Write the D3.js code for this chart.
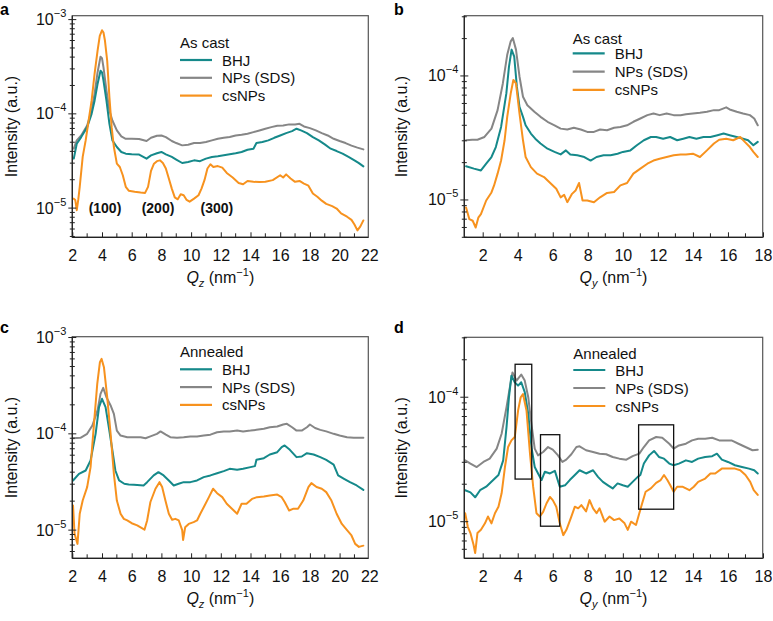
<!DOCTYPE html>
<html>
<head>
<meta charset="utf-8">
<script src="https://cdn.jsdelivr.net/npm/d3@7"></script>
<style>
  html, body { margin: 0; padding: 0; background: #fff; }
  svg { display: block; font-family: "Liberation Sans", Arial, Helvetica, sans-serif; }
</style>
</head>
<body>
<script>
// ---------------- DATA (intensity values in units of 1e-5 a.u.) ----------------
// Panel a: As cast, Qz
const aBHJ = [[2.1,3.35],[2.3,4.82],[2.6,5.67],[3.0,7.23],[3.3,10],[3.5,13.8],[3.7,20.7],[3.9,28.7],[4.0,27.5],[4.1,22.5],[4.3,13.8],[4.5,7.84],[4.7,5.23],[5.0,4.45],[5.3,3.94],[5.6,3.78],[6.0,3.72],[6.5,3.70],[7.0,3.35],[7.3,3.63],[7.7,3.82],[8.0,3.94],[8.3,3.72],[8.7,3.49],[9.0,3.27],[9.4,3.01],[9.8,3.09],[10.2,3.21],[10.6,3.15],[11.0,3.35],[11.4,3.49],[11.8,3.55],[12.2,3.63],[12.6,3.72],[13.0,3.82],[13.4,3.94],[13.8,4.16],[14.2,4.27],[14.4,4.9],[14.8,5.02],[15.2,5.23],[15.6,5.57],[16.0,5.9],[16.4,6.25],[16.8,6.55],[17.1,6.95],[17.4,6.67],[17.8,6.25],[18.2,5.67],[18.6,5.23],[19.0,4.75],[19.4,4.27],[19.8,4.03],[20.2,3.78],[20.6,3.49],[21.0,3.21],[21.3,3.0],[21.6,2.77]];
const aNPs = [[2.1,4.27],[2.3,5.23],[2.6,5.9],[3.0,7.53],[3.3,10.8],[3.5,16.3],[3.7,27.5],[3.9,40.3],[4.0,39],[4.1,31.1],[4.3,17.6],[4.5,10.8],[4.7,8.5],[5.0,6.67],[5.3,5.76],[5.6,5.44],[6.0,5.44],[6.5,5.4],[7.0,5.15],[7.3,5.57],[7.7,5.85],[8.0,5.9],[8.3,5.67],[8.7,5.15],[9.0,4.9],[9.4,4.63],[9.8,4.7],[10.2,4.9],[10.6,4.9],[11.0,5.02],[11.4,5.23],[11.8,5.44],[12.2,5.57],[12.6,5.67],[13.0,5.9],[13.4,6.0],[13.8,6.15],[14.2,6.4],[14.6,6.67],[15.0,6.95],[15.4,7.23],[15.8,7.47],[16.2,7.53],[16.6,7.73],[17.0,7.73],[17.3,7.84],[17.6,7.35],[18.0,7.06],[18.4,6.67],[18.8,6.25],[19.2,5.9],[19.6,5.44],[20.0,5.15],[20.4,4.9],[20.8,4.6],[21.2,4.38],[21.6,4.2]];
const aCs = [[2.1,1.26],[2.2,1.22],[2.3,0.95],[2.4,1.22],[2.5,1.68],[2.7,3.49],[2.9,5.23],[3.1,8.5],[3.3,13.8],[3.5,26.5],[3.7,46.7],[3.85,67.2],[4.0,77],[4.1,72.9],[4.2,59.6],[4.35,36.6],[4.5,15],[4.65,7.23],[4.8,4.45],[5.0,2.96],[5.2,2.73],[5.4,2.23],[5.6,1.68],[5.8,1.53],[6.2,1.49],[6.6,1.46],[6.9,1.45],[7.1,1.68],[7.3,2.48],[7.5,2.96],[7.7,3.15],[7.9,3.21],[8.1,3.01],[8.3,2.63],[8.5,2.06],[8.7,1.61],[8.9,1.3],[9.1,1.24],[9.3,1.4],[9.5,1.37],[9.7,1.22],[9.9,1.17],[10.2,1.26],[10.5,1.37],[10.7,1.61],[10.9,1.98],[11.1,2.63],[11.3,2.92],[11.5,2.73],[11.8,2.79],[12.1,2.69],[12.4,2.36],[12.8,2.11],[13.2,1.85],[13.5,1.79],[13.8,1.94],[14.2,1.9],[14.6,1.89],[15.0,1.9],[15.5,1.98],[16.0,2.23],[16.2,2.11],[16.4,2.28],[16.7,2.06],[17.0,1.9],[17.3,1.94],[17.6,1.82],[17.9,1.73],[18.2,1.43],[18.5,1.32],[18.8,1.2],[19.1,1.11],[19.5,1.05],[19.8,0.99],[20.1,0.88],[20.5,0.81],[20.8,0.75],[21.0,0.67],[21.2,0.58],[21.4,0.64],[21.6,0.74]];

// Panel b: As cast, Qy
const bBHJ = [[1.05,1.87],[1.5,1.79],[1.9,1.73],[2.2,1.96],[2.5,2.22],[2.75,2.67],[3.05,3.88],[3.35,7.23],[3.5,11.9],[3.65,16.3],[3.8,14.3],[3.95,8.2],[4.1,5.64],[4.3,4.68],[4.45,4.0],[4.75,3.43],[5.0,3.12],[5.3,2.85],[5.7,2.59],[6.1,2.44],[6.45,2.33],[6.75,2.51],[7.0,2.33],[7.4,2.29],[7.8,2.22],[8.16,2.08],[8.5,2.22],[8.9,2.29],[9.3,2.29],[9.7,2.36],[10.0,2.44],[10.43,2.51],[10.8,2.76],[11.2,3.03],[11.6,3.22],[11.9,3.22],[12.3,3.12],[12.7,3.22],[13.1,3.03],[13.45,3.12],[13.8,3.22],[14.2,3.12],[14.6,3.22],[15.0,3.22],[15.4,3.33],[15.75,3.43],[16.1,3.33],[16.5,3.22],[16.86,3.12],[17.15,3.03],[17.45,2.76],[17.7,2.94]];
const bNPs = [[1.05,3.03],[1.4,3.06],[1.7,3.06],[2.1,3.22],[2.5,3.76],[2.85,5.3],[3.15,8.7],[3.4,14.8],[3.6,19],[3.72,20.2],[3.9,16.3],[4.1,9.9],[4.3,6.8],[4.55,5.8],[4.95,5.14],[5.3,4.68],[5.7,4.27],[6.1,4.0],[6.45,3.76],[6.83,3.7],[7.2,3.82],[7.6,3.7],[7.97,3.54],[8.35,3.54],[8.7,3.7],[9.1,3.65],[9.5,3.82],[9.86,3.88],[10.24,4.0],[10.6,4.27],[11.0,4.54],[11.4,4.83],[11.75,4.98],[12.1,4.83],[12.5,4.98],[12.9,4.83],[13.3,4.83],[13.6,4.9],[14.0,4.98],[14.4,5.05],[14.8,5.14],[15.2,5.3],[15.5,5.3],[15.9,5.58],[16.1,5.37],[16.5,5.14],[16.86,4.98],[17.25,4.83],[17.5,4.54],[17.7,4.0]];
const bCs = [[1.05,0.87],[1.24,0.7],[1.43,0.68],[1.6,0.6],[1.75,0.72],[1.9,0.77],[2.2,0.99],[2.5,1.15],[2.65,1.31],[2.85,1.63],[3.05,2.08],[3.25,3.03],[3.4,4.68],[3.6,7.23],[3.75,9.28],[3.9,8.7],[4.1,4.98],[4.3,3.03],[4.45,2.22],[4.75,1.84],[5.1,1.63],[5.5,1.53],[5.9,1.35],[6.2,1.23],[6.45,1.05],[6.65,1.1],[6.83,0.96],[7.1,1.12],[7.3,1.19],[7.5,1.37],[7.7,0.99],[7.97,0.99],[8.35,0.96],[8.7,1.05],[9.1,1.14],[9.5,1.16],[9.86,1.31],[10.24,1.37],[10.6,1.63],[11.0,1.79],[11.4,1.96],[11.75,2.08],[12.1,2.15],[12.5,2.22],[12.9,2.29],[13.3,2.33],[13.6,2.33],[14.0,2.36],[14.4,2.22],[14.8,2.51],[15.2,2.85],[15.5,3.06],[15.9,3.12],[16.3,3.03],[16.7,3.22],[16.96,2.94],[17.25,2.67],[17.45,2.44],[17.7,2.22]];

// Panel c: Annealed, Qz
const cBHJ = [[2.05,3.28],[2.45,3.84],[2.9,4.16],[3.23,5.29],[3.57,10],[3.8,18.9],[4.0,23.1],[4.24,18.9],[4.46,11.7],[4.7,6.71],[4.9,4.16],[5.15,3.28],[5.5,3.03],[5.8,2.98],[6.15,2.96],[6.8,2.91],[7.04,3.15],[7.48,3.7],[7.8,4.0],[8.15,3.7],[8.5,3.28],[8.83,2.91],[9.16,3.03],[9.5,3.15],[9.95,3.15],[10.4,3.28],[10.85,3.55],[11.3,3.7],[11.75,3.9],[12.2,4.1],[12.6,4.33],[13.1,4.23],[13.5,4.33],[14.0,4.51],[14.3,4.62],[14.4,5.37],[14.9,5.59],[15.3,6.1],[15.8,6.45],[16.1,7.27],[16.3,7.57],[16.65,6.82],[17.1,5.73],[17.45,5.82],[17.8,6.3],[18.25,6.1],[18.7,5.73],[19.1,5.37],[19.6,4.8],[19.9,3.7],[20.3,3.41],[20.7,3.15],[21.15,2.91],[21.6,2.62]];
const cNPs = [[2.05,9.0],[2.55,9.1],[3.0,10],[3.35,12.2],[3.7,17.5],[3.9,26],[4.08,30],[4.3,24],[4.58,19.7],[4.8,16.1],[5.0,10.8],[5.25,9.6],[5.7,9.23],[6.15,9.23],[6.6,9.23],[6.93,9.0],[7.26,9.4],[7.7,10],[7.94,10.6],[8.3,9.8],[8.6,9.23],[9.05,9.1],[9.5,9.23],[9.95,9.4],[10.4,9.4],[10.85,9.6],[11.3,9.8],[11.75,10.4],[12.2,10.6],[12.6,10.6],[13.1,10.8],[13.5,10.6],[14.0,10.8],[14.4,11.0],[14.9,11.3],[15.3,11.7],[15.8,11.9],[16.2,12.5],[16.45,12.7],[16.8,11.7],[17.1,10.8],[17.45,10.8],[17.8,11.7],[18.0,12.5],[18.35,11.5],[18.7,11.0],[19.1,10.6],[19.6,10],[20.0,9.6],[20.5,9.23],[20.95,9.1],[21.4,9.1],[21.6,9.1]];
const cCs = [[2.05,1.8],[2.15,0.92],[2.35,0.72],[2.5,1.48],[2.7,2.03],[3.0,2.8],[3.23,4.51],[3.46,12.7],[3.68,33],[3.86,55.5],[3.97,60],[4.13,49.2],[4.35,24],[4.58,10],[4.8,3.84],[5.0,2.03],[5.25,1.48],[5.47,1.31],[5.7,1.26],[6.0,1.18],[6.37,1.12],[6.86,1.01],[7.04,1.26],[7.26,1.96],[7.6,2.69],[7.87,3.15],[8.05,2.8],[8.27,2.03],[8.5,1.48],[8.72,1.28],[8.94,1.31],[9.17,1.26],[9.4,1.0],[9.46,0.79],[9.6,1.07],[9.84,1.16],[10.17,1.21],[10.4,1.26],[10.62,1.48],[10.85,1.73],[11.2,2.2],[11.48,2.69],[11.75,2.42],[12.1,2.2],[12.4,1.88],[12.75,1.67],[13.1,1.48],[13.4,1.88],[13.73,1.88],[14.1,2.11],[14.43,2.2],[14.9,2.23],[15.3,2.29],[15.8,2.34],[16.1,2.2],[16.3,1.96],[16.6,1.6],[16.9,1.67],[17.2,1.67],[17.55,2.03],[17.9,2.8],[18.1,3.08],[18.45,2.8],[18.8,2.69],[19.1,2.48],[19.45,2.03],[19.8,1.48],[20.15,1.16],[20.5,1.0],[20.8,0.88],[21.05,0.72],[21.3,0.67],[21.6,0.69]];

// Panel d: Annealed, Qy
const dBHJ = [[1.0,1.79],[1.3,1.72],[1.57,1.57],[1.85,1.79],[2.2,1.91],[2.6,2.16],[2.9,2.37],[3.17,3.11],[3.36,5.75],[3.5,10],[3.64,14.9],[3.83,13.2],[4.02,12.4],[4.2,13.2],[4.4,11.0],[4.6,7.36],[4.78,3.98],[4.97,2.75],[5.16,2.44],[5.36,2.16],[5.55,2.52],[5.84,2.44],[6.12,2.56],[6.4,1.91],[6.7,1.96],[6.97,2.16],[7.26,2.37],[7.53,2.59],[7.9,2.44],[8.3,2.59],[8.58,2.29],[8.86,2.09],[9.15,1.96],[9.42,1.85],[9.7,2.03],[10.0,1.96],[10.28,1.91],[10.56,2.09],[10.85,2.29],[11.0,2.37],[11.2,2.93],[11.5,3.41],[11.78,3.7],[12.06,3.31],[12.35,3.21],[12.65,2.93],[12.9,2.84],[13.2,2.93],[13.6,3.11],[13.95,3.02],[14.3,3.21],[14.7,3.31],[15.1,3.36],[15.37,3.52],[15.65,3.15],[16.0,3.02],[16.4,2.84],[16.8,2.75],[17.2,2.67],[17.5,2.59],[17.7,2.44]];
const dNPs = [[1.0,3.11],[1.3,2.93],[1.66,2.75],[2.04,3.02],[2.4,3.21],[2.8,3.86],[3.08,5.09],[3.36,8.32],[3.55,12.0],[3.7,15.8],[3.93,13.6],[4.1,14.6],[4.2,15.2],[4.4,13.6],[4.6,10],[4.78,6.12],[4.97,3.86],[5.16,3.41],[5.45,3.63],[5.73,3.98],[6.0,3.79],[6.3,3.41],[6.55,3.02],[6.77,3.15],[7.06,3.48],[7.35,3.98],[7.53,4.03],[7.9,3.75],[8.3,3.63],[8.67,3.52],[9.05,3.48],[9.42,3.31],[9.8,3.21],[10.2,3.15],[10.56,3.36],[10.94,3.52],[11.2,3.98],[11.5,4.5],[11.9,4.79],[12.25,4.73],[12.65,4.23],[12.9,3.86],[13.2,4.1],[13.6,4.23],[13.95,4.5],[14.3,4.64],[14.7,4.64],[15.1,4.73],[15.5,4.5],[15.85,4.5],[16.2,4.5],[16.6,4.23],[17.0,3.98],[17.4,3.75],[17.7,3.79]];
const dCs = [[1.0,1.17],[1.15,0.91],[1.3,0.81],[1.47,0.66],[1.57,0.56],[1.7,0.81],[1.9,0.86],[2.13,0.97],[2.3,1.10],[2.5,0.97],[2.7,1.17],[2.9,1.32],[3.08,1.69],[3.27,2.75],[3.45,3.98],[3.64,4.5],[3.83,4.79],[4.02,7.82],[4.17,10],[4.3,10.6],[4.5,7.82],[4.7,3.52],[4.88,1.91],[5.07,1.17],[5.26,1.10],[5.45,1.20],[5.64,1.40],[5.84,1.58],[6.0,1.49],[6.2,1.32],[6.4,0.97],[6.6,0.78],[6.78,0.86],[7.06,1.10],[7.26,1.32],[7.45,1.28],[7.63,1.36],[7.9,1.21],[8.1,1.49],[8.3,1.28],[8.5,1.17],[8.67,1.28],[8.96,1.0],[9.24,1.10],[9.5,1.03],[9.8,1.06],[10.1,0.97],[10.28,0.86],[10.47,1.0],[10.75,0.94],[10.94,1.17],[11.1,1.40],[11.3,1.74],[11.6,1.85],[11.9,2.05],[12.16,2.16],[12.35,2.37],[12.54,2.16],[12.7,1.97],[12.9,1.74],[13.1,1.91],[13.4,1.91],[13.8,1.79],[14.05,1.91],[14.3,2.09],[14.7,2.22],[15.0,2.44],[15.27,2.44],[15.65,2.67],[16.0,2.67],[16.4,2.67],[16.7,2.59],[17.0,2.37],[17.27,2.09],[17.47,1.79],[17.7,1.64]];

// Highlight boxes in panel d: [qStart, qEnd, Imin, Imax] (intensity ×1e-5)
const dBoxes = [[3.85,4.8,2.2,18.4],[5.3,6.4,0.92,5.0],[10.9,12.9,1.26,6.0]];

// Peak labels in panel a: [q, I(×1e-5), text]
const aPeakLabels = [[4.2,1.0,"(100)"],[7.77,1.0,"(200)"],[11.74,1.0,"(300)"]];

const seriesNames = ["BHJ","NPs (SDS)","csNPs"];
const colors = {BHJ:"#15898a", NPs:"#868686", cs:"#f7921e"};
const xTicksQz = [2,4,6,8,10,12,14,16,18,20,22];
const xTicksQy = [2,4,6,8,10,12,14,16,18];
// ------------------------------------------------------------------------

const SCALE = 1e-5;
const svg = d3.select("body").append("svg").attr("width",773).attr("height",621);
const FONT = "\"Liberation Sans\", Arial, Helvetica, sans-serif";

function drawPanel(cfg){
  const x = d3.scaleLinear().domain(cfg.xDomain).range([cfg.left, cfg.xMaxPx]);
  const y = d3.scaleLog().domain(cfg.yDomain).range([cfg.bottom, cfg.top]);
  const g = svg.append("g");

  // panel letter
  g.append("text").attr("x",cfg.letterX).attr("y",cfg.letterY)
    .attr("font-size",16).attr("font-weight","bold").attr("font-family",FONT).text(cfg.letter);

  // lines (grey, teal, orange)
  const line = d3.line().x(d=>x(d[0])).y(d=>y(d[1]*SCALE));
  const order = [[cfg.series[1],colors.NPs],[cfg.series[0],colors.BHJ],[cfg.series[2],colors.cs]];
  order.forEach(([data,col])=>{
    g.append("path").datum(data).attr("d",line).attr("fill","none")
      .attr("stroke",col).attr("stroke-width",2).attr("stroke-linejoin","round").attr("stroke-linecap","round");
  });

  // frame
  g.append("rect").attr("x",cfg.left).attr("y",cfg.top)
    .attr("width",cfg.right-cfg.left).attr("height",cfg.bottom-cfg.top)
    .attr("fill","none").attr("stroke","#555").attr("stroke-width",1.2);
  g.append("line").attr("x1",cfg.left).attr("x2",cfg.left).attr("y1",cfg.top).attr("y2",cfg.bottom).attr("stroke","#222").attr("stroke-width",1.2);
  g.append("line").attr("x1",cfg.left).attr("x2",cfg.right).attr("y1",cfg.bottom).attr("y2",cfg.bottom).attr("stroke","#222").attr("stroke-width",1.2);

  // x axis (major labelled ticks, inward)
  const xAxis = d3.axisBottom(x).tickValues(cfg.xTicks).tickSize(-5).tickPadding(12).tickFormat(d3.format("d"));
  const ax = g.append("g").attr("transform",`translate(0,${cfg.bottom})`).call(xAxis);
  ax.select(".domain").remove();
  ax.selectAll(".tick line").attr("stroke","#222").filter(d=>x(d)>cfg.right+0.5).remove();
  ax.selectAll(".tick text").attr("font-size",16).attr("font-family",FONT).attr("fill","#111");
  // minor x ticks
  const minorX = d3.range(Math.ceil(cfg.xDomain[0]), Math.floor(cfg.xDomain[1])+1).filter(v=>!cfg.xTicks.includes(v) && x(v)>cfg.left+1 && x(v)<cfg.right-1);
  g.selectAll(null).data(minorX).enter().append("line")
    .attr("x1",d=>x(d)).attr("x2",d=>x(d)).attr("y1",cfg.bottom).attr("y2",cfg.bottom-4)
    .attr("stroke","#222");

  // y axis ticks (log)
  const lo = Math.floor(Math.log10(cfg.yDomain[0])), hi = Math.ceil(Math.log10(cfg.yDomain[1]));
  for(let e=lo; e<=hi; e++){
    for(let m=1; m<=9; m++){
      const v = m*Math.pow(10,e);
      if(v < cfg.yDomain[0]*0.999 || v > cfg.yDomain[1]*1.001) continue;
      const yy = y(v);
      const len = m===1 ? 4 : 2.5;
      g.append("line").attr("x1",cfg.left-len).attr("x2",cfg.left+len).attr("y1",yy).attr("y2",yy)
        .attr("stroke","#222").attr("stroke-width",1);
      if(m===1){
        const t = g.append("text").attr("x",cfg.left-6).attr("y",yy+5.5)
          .attr("text-anchor","end").attr("font-size",16).attr("font-family",FONT).attr("fill","#111");
        t.append("tspan").text("10");
        t.append("tspan").attr("dy",-8).attr("font-size",11).text("\u2212"+(-e));
      }
    }
  }

  // y title
  const cy = (cfg.top+cfg.bottom)/2;
  g.append("text").attr("transform",`translate(${cfg.yTitleX},${cy}) rotate(-90)`)
    .attr("text-anchor","middle").attr("font-size",16).attr("font-family",FONT).attr("fill","#111")
    .text("Intensity (a.u.)");

  // x title
  const cx = (cfg.left+cfg.right)/2;
  const xt = g.append("text").attr("x",cx).attr("y",cfg.bottom+46).attr("text-anchor","middle")
    .attr("font-size",16).attr("font-family",FONT).attr("fill","#111");
  xt.append("tspan").attr("font-style","italic").text("Q");
  xt.append("tspan").attr("font-style","italic").attr("font-size",11).attr("dy",4).text(cfg.sub);
  xt.append("tspan").attr("dy",-4).text(" (nm");
  xt.append("tspan").attr("font-size",11).attr("dy",-7).text("\u22121");
  xt.append("tspan").attr("dy",7).text(")");

  // legend
  const L = cfg.legend;
  g.append("text").attr("x",L.x).attr("y",L.titleY).attr("font-size",15).attr("font-family",FONT).attr("fill","#111").text(cfg.title);
  const lc = [colors.BHJ, colors.NPs, colors.cs];
  seriesNames.forEach((nm,i)=>{
    const ly = L.y0 + i*L.dy;
    g.append("line").attr("x1",L.x).attr("x2",L.x+32).attr("y1",ly).attr("y2",ly)
      .attr("stroke",lc[i]).attr("stroke-width",2.2);
    g.append("text").attr("x",L.x+42).attr("y",ly+5.5).attr("font-size",15).attr("font-family",FONT).attr("fill","#111").text(nm);
  });

  // annotations
  if(cfg.peakLabels){
    cfg.peakLabels.forEach(([q,v,t])=>{
      g.append("text").attr("x",x(q)).attr("y",y(v*SCALE)+5).attr("text-anchor","middle")
        .attr("font-size",14).attr("font-weight","bold").attr("font-family",FONT).attr("fill","#111").text(t);
    });
  }
  if(cfg.boxes){
    cfg.boxes.forEach(([q0,q1,v0,v1])=>{
      g.append("rect").attr("x",x(q0)).attr("y",y(v1*SCALE))
        .attr("width",x(q1)-x(q0)).attr("height",y(v0*SCALE)-y(v1*SCALE))
        .attr("fill","none").attr("stroke","#111").attr("stroke-width",1.3);
    });
  }
}

drawPanel({letter:"a", letterX:0, letterY:15, title:"As cast", sub:"z",
  series:[aBHJ,aNPs,aCs], xDomain:[2,22], xMaxPx:369.3, xTicks:xTicksQz,
  yDomain:[4.9e-6,1.1e-3], left:72.3, right:368.3, top:15.7, bottom:237.3, yTitleX:17,
  legend:{x:180, titleY:48, y0:60, dy:17.8}, peakLabels:aPeakLabels});

drawPanel({letter:"b", letterX:394, letterY:15, title:"As cast", sub:"y",
  series:[bBHJ,bNPs,bCs], xDomain:[0.95,18], xMaxPx:763, xTicks:xTicksQy,
  yDomain:[5.0e-6,3.06e-4], left:464.3, right:762.7, top:15.7, bottom:237.3, yTitleX:407,
  legend:{x:572.7, titleY:43.5, y0:53.3, dy:18.3}});

drawPanel({letter:"c", letterX:0, letterY:333, title:"Annealed", sub:"z",
  series:[cBHJ,cNPs,cCs], xDomain:[2,22], xMaxPx:369.3, xTicks:xTicksQz,
  yDomain:[5.1e-6,1.02e-3], left:72.3, right:368.3, top:336.7, bottom:558.3, yTitleX:17,
  legend:{x:180, titleY:357, y0:369.3, dy:17.8}});

drawPanel({letter:"d", letterX:394, letterY:333, title:"Annealed", sub:"y",
  series:[dBHJ,dNPs,dCs], xDomain:[0.95,18], xMaxPx:763, xTicks:xTicksQy,
  yDomain:[5.08e-6,3.03e-4], left:464.3, right:762.7, top:337.3, bottom:558.3, yTitleX:407,
  legend:{x:573.3, titleY:358.5, y0:370, dy:18}, boxes:dBoxes});
</script>
</body>
</html>
